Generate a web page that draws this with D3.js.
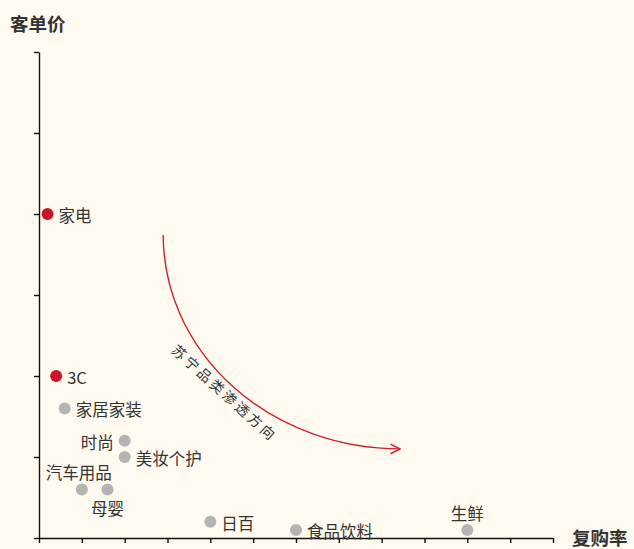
<!DOCTYPE html>
<html>
<head>
<meta charset="utf-8">
<script src="https://cdn.jsdelivr.net/npm/d3@7"></script>
<style>
  body { margin: 0; background: #fffaf0; }
  svg { display: block; }
</style>
</head>
<body>
<div id="chart"></div>
<script>
// kategorier og værdier (复购率, 客单价)
const categories = ["家电", "3C", "家居家装", "时尚", "美妆个护", "汽车用品", "母婴", "日百", "食品饮料", "生鲜"];
const repurchase = [0.2, 0.4, 0.6, 2.0, 2.0, 1.0, 1.6, 4.0, 6.0, 10.0];
const orderValue = [4.0, 2.0, 1.6, 1.2, 1.0, 0.6, 0.6, 0.2, 0.1, 0.1];
const highlighted = ["家电", "3C"];
// label placering: r = højre, l = venstre, t = over, b = under
const labelSide = ["r", "r", "r", "l", "r", "tl", "b", "r", "r", "t"];

// pil (start og slut i data-enheder)
const arrowStart = [2.9, 3.74];
const arrowEnd = [8.43, 1.1];
const arrowText = "苏宁品类渗透方向";

const xTicks = d3.range(0, 13);
const yTicks = d3.range(0, 7);

const width = 634, height = 549;
const margin = { top: 52, right: 81, bottom: 11, left: 39 };

const svg = d3.select("#chart").append("svg")
  .attr("width", width)
  .attr("height", height)
  .style("background", "#fffaf0");

const x = d3.scaleLinear().domain([0, 12]).range([margin.left, width - margin.right]);
const y = d3.scaleLinear().domain([0, 6]).range([height - margin.bottom, margin.top]);

// akser
const xAxis = svg.append("g")
  .attr("transform", `translate(0,${y(0)})`)
  .call(d3.axisBottom(x).tickValues(xTicks).tickFormat("").tickSize(5).tickSizeOuter(0));
const yAxis = svg.append("g")
  .attr("transform", `translate(${x(0)},0)`)
  .call(d3.axisLeft(y).tickValues(yTicks).tickFormat("").tickSize(5).tickSizeOuter(0));
[xAxis, yAxis].forEach((a) => {
  a.selectAll("path, line").attr("stroke", "#111").attr("stroke-width", 1.4);
});

// akse titler
svg.append("text")
  .attr("x", 10).attr("y", 31)
  .attr("font-family", "'Noto Sans CJK SC'")
  .attr("font-weight", "bold")
  .attr("font-size", 18.5)
  .attr("fill", "#333")
  .text("客单价");
svg.append("text")
  .attr("x", 572).attr("y", 545)
  .attr("font-family", "'Noto Sans CJK SC'")
  .attr("font-weight", "bold")
  .attr("font-size", 18.5)
  .attr("fill", "#333")
  .text("复购率");

// pilespids marker
svg.append("defs").append("marker")
  .attr("id", "arrow")
  .attr("viewBox", "0 0 10 10")
  .attr("refX", 9).attr("refY", 5)
  .attr("markerWidth", 12).attr("markerHeight", 12)
  .attr("markerUnits", "userSpaceOnUse")
  .attr("orient", "auto")
  .append("path")
  .attr("d", "M1,1 L9,5 L1,9")
  .attr("fill", "none")
  .attr("stroke", "#d0202e")
  .attr("stroke-width", 1.3);

const sx = x(arrowStart[0]), sy = y(arrowStart[1]);
const ex = x(arrowEnd[0]), ey = y(arrowEnd[1]);
svg.append("path")
  .attr("d", `M${sx},${sy} A${ex - sx},${ey - sy} 0 0 0 ${ex},${ey}`)
  .attr("fill", "none")
  .attr("stroke", "#d0202e")
  .attr("stroke-width", 1.4)
  .attr("marker-end", "url(#arrow)");

// tekst langs pilen
svg.append("text")
  .attr("transform", `translate(${x(4.25)},${y(1.74)}) rotate(42)`)
  .attr("text-anchor", "middle")
  .attr("font-family", "'Noto Sans CJK SC'")
  .attr("font-size", 14)
  .attr("letter-spacing", 3)
  .attr("fill", "#333")
  .text(arrowText);

// punkter
const data = categories.map((c, i) => ({ name: c, rx: repurchase[i], ov: orderValue[i], side: labelSide[i] }));

svg.selectAll("circle.dot")
  .data(data)
  .enter()
  .append("circle")
  .attr("class", "dot")
  .attr("cx", (d) => x(d.rx))
  .attr("cy", (d) => y(d.ov))
  .attr("r", 6)
  .attr("fill", (d) => (highlighted.includes(d.name) ? "#cc1426" : "#b4b4b4"));

// labels
svg.selectAll("text.lbl")
  .data(data)
  .enter()
  .append("text")
  .attr("class", "lbl")
  .attr("font-family", "'Noto Sans CJK SC'")
  .attr("font-size", 16.5)
  .attr("fill", "#333")
  .attr("dominant-baseline", "central")
  .attr("text-anchor", (d) => (d.side === "l" ? "end" : d.side === "r" ? "start" : "middle"))
  .attr("x", (d) => {
    const cx = x(d.rx);
    if (d.side === "r") return cx + 11;
    if (d.side === "l") return cx - 11;
    if (d.side === "tl") return cx - 3;
    return cx;
  })
  .attr("y", (d) => {
    const cy = y(d.ov);
    if (d.side === "t" || d.side === "tl") return cy - 17;
    if (d.side === "b") return cy + 19;
    return cy + 1;
  })
  .text((d) => d.name);
</script>
</body>
</html>
